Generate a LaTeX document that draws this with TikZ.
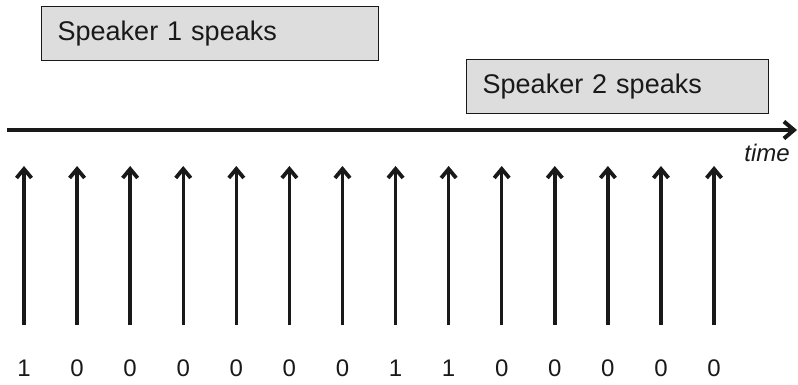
\documentclass[tikz,border=0pt]{standalone}
\usepackage{fontspec}
\setmainfont{Liberation Sans}
\usetikzlibrary{arrows.meta}
\definecolor{boxfill}{RGB}{221,221,221}
\definecolor{ink}{RGB}{25,25,25}
\begin{document}
\begin{tikzpicture}[x=1pt,y=-1pt,
  spkbox/.style={draw=ink,line width=1.4pt,fill=boxfill,minimum height=54pt,inner xsep=16pt,inner ysep=0pt,align=left,anchor=north west,font=\fontsize{27}{30}\selectfont,text=ink},
  tick/.style={draw=ink,line width=3.4pt,-{Straight Barb[length=9pt,width=15pt,line width=3.8pt]}},
  axis/.style={draw=ink,line width=4pt,-{Straight Barb[length=10pt,width=17pt,line width=4pt]}},
  digit/.style={font=\fontsize{24}{26}\selectfont,text=ink,inner sep=0pt}]
\useasboundingbox (0,0) rectangle (798,384);
\node[spkbox,text width=305pt] (s1) at (41,6) {Speaker 1 speaks};
\node[spkbox,text width=270pt] (s2) at (466,59) {Speaker 2 speaks};
\coordinate (a0) at (7,130);
\coordinate (a1) at (797,130);
\draw[axis] (a0) -- (a1);
\node[font=\itshape\fontsize{24}{26}\selectfont,text=ink,anchor=east,inner sep=0pt] (time) at (790,153) {time};
\foreach \d [count=\i from 0] in {1,0,0,0,0,0,0,1,1,0,0,0,0,0} {
  \coordinate (b\i) at ({24+\i*53.08},325);
  \coordinate (t\i) at ({24+\i*53.08},166);
  \draw[tick] (b\i) -- (t\i);
  \node[digit] (d\i) at ({24+\i*53.08},368) {\d};
}
\end{tikzpicture}
\end{document}
